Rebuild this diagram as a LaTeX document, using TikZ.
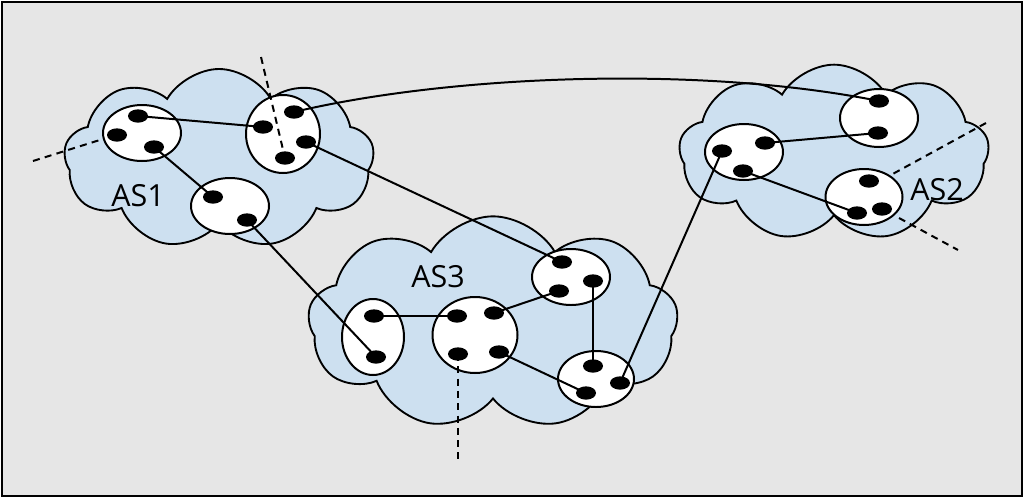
\documentclass[tikz,border=0pt]{standalone}
\usepackage{fontspec}
\setmainfont{Open Sans}
\usetikzlibrary{shapes.geometric,shapes.symbols}
\definecolor{bggray}{RGB}{230,230,230}
\definecolor{cloudblue}{RGB}{205,224,240}
\tikzset{
  cloudbox/.style={cloud, cloud puffs=9, cloud puff arc=120, cloud ignores aspect, draw=black, line width=1.6pt, fill=cloudblue, inner sep=0pt},
  router/.style={ellipse, draw=black, line width=1.7pt, fill=white, inner sep=0pt},
  dotnode/.style={ellipse, fill=black, minimum width=0.6cm, minimum height=0.4cm, inner sep=0pt},
  link/.style={line width=1.7pt},
  dlink/.style={line width=1.7pt, dash pattern=on 6pt off 4.5pt},
  aslabel/.style={font=\fontsize{26}{31}\selectfont}
}
\begin{document}
\begin{tikzpicture}[x=0.03cm,y=-0.03cm]
\useasboundingbox (0,0) rectangle (1024,498);
\node[draw=black, line width=1.7pt, fill=bggray, minimum width=30.6cm, minimum height=14.82cm, inner sep=0pt] (frame) at (512,249) {};
% clouds
\node[cloudbox, minimum width=9.3cm, minimum height=5.4cm] (cloud1) at (219,159) {};
\node[cloudbox, minimum width=11.1cm, minimum height=6.4cm] (cloud3) at (493,323) {};
\node[cloudbox, minimum width=9.3cm, minimum height=5.3cm] (cloud2) at (834,153) {};
\node[aslabel] (as1) at (138,196) {AS1};
\node[aslabel] (as3) at (438,277) {AS3};
\node[aslabel] (as2) at (937,190) {AS2};
% routers (ellipses)
\node[router, minimum width=2.34cm, minimum height=1.68cm] (e1) at (142,133) {};
\node[router, minimum width=2.22cm, minimum height=2.34cm] (e2) at (283,134) {};
\node[router, minimum width=2.34cm, minimum height=1.68cm] (e3) at (230,206) {};
\node[router, minimum width=1.86cm, minimum height=2.28cm] (l3) at (373,337) {};
\node[router, minimum width=2.55cm, minimum height=2.28cm] (m3) at (475,335) {};
\node[router, minimum width=2.34cm, minimum height=1.68cm] (t3) at (571,277) {};
\node[router, minimum width=2.28cm, minimum height=1.68cm] (b3) at (596,379) {};
\node[router, minimum width=2.34cm, minimum height=1.74cm] (t2) at (879,118) {};
\node[router, minimum width=2.34cm, minimum height=1.68cm] (l2) at (744,152) {};
\node[router, minimum width=2.31cm, minimum height=1.68cm] (b2) at (864,197) {};
% dot positions
\coordinate (e1a) at (138,116);
\coordinate (e1b) at (117,135);
\coordinate (e1c) at (154,147);
\coordinate (e2a) at (294,112);
\coordinate (e2b) at (263,127);
\coordinate (e2c) at (306,142);
\coordinate (e2d) at (285,158);
\coordinate (e3a) at (213,197);
\coordinate (e3b) at (247,220);
\coordinate (l3a) at (374,316);
\coordinate (l3b) at (376,357);
\coordinate (m3a) at (457,316);
\coordinate (m3b) at (494,313);
\coordinate (m3c) at (458,354);
\coordinate (m3d) at (499,352);
\coordinate (t3a) at (562,262);
\coordinate (t3b) at (593,281);
\coordinate (t3c) at (559,291);
\coordinate (b3a) at (593,366);
\coordinate (b3b) at (620,383);
\coordinate (b3c) at (586,393);
\coordinate (t2a) at (879,101);
\coordinate (t2b) at (878,133);
\coordinate (l2a) at (765,143);
\coordinate (l2b) at (722,151);
\coordinate (l2c) at (743,171);
\coordinate (b2a) at (869,181);
\coordinate (b2b) at (857,213);
\coordinate (b2c) at (882,209);
% dashed free ends
\coordinate (d1s) at (33,161);
\coordinate (d1e) at (103,139);
\coordinate (d2s) at (261,57);
\coordinate (d3e) at (458,460);
\coordinate (d4s) at (986,123);
\coordinate (d4e) at (889,176);
\coordinate (d5s) at (899,218);
\coordinate (d5e) at (958,250);
% links
\draw[link] (e1a) -- (e2b);
\draw[link] (e1c) -- (e3a);
\draw[link] (e2c) -- (t3a);
\draw[link] (e3b) -- (l3b);
\draw[link] (e2a) .. controls (450,75) and (700,65) .. (t2a);
\draw[link] (l3a) -- (m3a);
\draw[link] (m3b) -- (t3c);
\draw[link] (m3d) -- (b3c);
\draw[link] (t3b) -- (b3a);
\draw[link] (b3b) -- (l2b);
\draw[link] (l2a) -- (t2b);
\draw[link] (l2c) -- (b2b);
% dashed
\draw[dlink] (d1s) -- (d1e);
\draw[dlink] (d2s) -- (e2d);
\draw[dlink] (m3c) -- (d3e);
\draw[dlink] (d4s) -- (d4e);
\draw[dlink] (d5s) -- (d5e);
% dots
\foreach \p in {e1a,e1b,e1c,e2a,e2b,e2c,e2d,e3a,e3b,l3a,l3b,m3a,m3b,m3c,m3d,t3a,t3b,t3c,b3a,b3b,b3c,t2a,t2b,l2a,l2b,l2c,b2a,b2b,b2c}
  \node[dotnode] (dot-\p) at (\p) {};
\end{tikzpicture}
\end{document}
